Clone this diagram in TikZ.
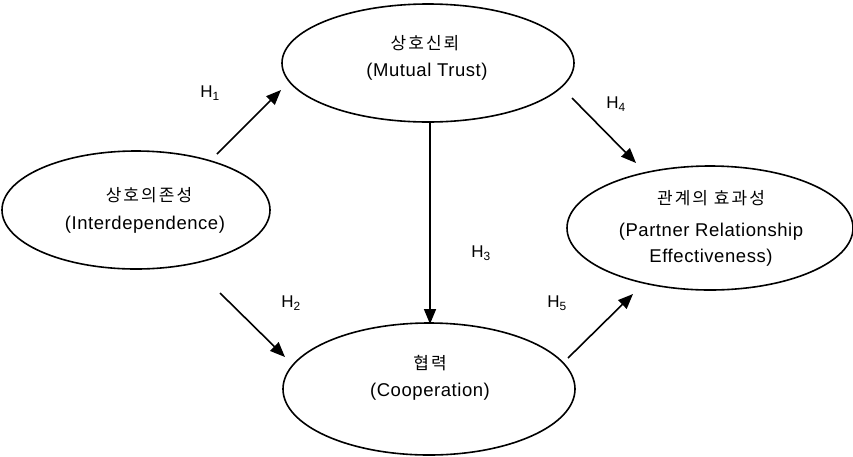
\documentclass[tikz,border=0pt]{standalone}
\usepackage{fontspec}
\setmainfont{Liberation Sans}
\newfontfamily\kor{Noto Sans CJK KR}[LetterSpace=12]
\usetikzlibrary{shapes.geometric,arrows.meta}
\begin{document}
\begin{tikzpicture}[x=1pt,y=-1pt,
  ell/.style={draw,line width=1.6pt,ellipse,inner sep=0pt},
  ktxt/.style={font=\kor\fontsize{17}{20}\selectfont,inner sep=0pt},
  etxt/.style={font=\addfontfeatures{LetterSpace=3}\fontsize{18.5}{22}\selectfont,inner sep=0pt},
  htxt/.style={font=\fontsize{17}{19}\selectfont,inner sep=0pt},
  arr/.style={line width=1.6pt,-{Triangle[length=15pt,width=12pt]}}]
\useasboundingbox (0,0) rectangle (853,456);
% ellipses
\node[ell,minimum width=292pt,minimum height=118pt] (trust) at (428,63) {};
\node[ell,minimum width=268pt,minimum height=118pt] (inter) at (136,210) {};
\node[ell,minimum width=286pt,minimum height=124pt] (eff) at (710,228) {};
\node[ell,minimum width=292pt,minimum height=132pt] (coop) at (429,389) {};
% texts
\node[ktxt] (t1) at (425,43) {상호신뢰};
\node[etxt] (t2) at (427,72) {(Mutual Trust)};
\node[ktxt] (i1) at (149,195) {상호의존성};
\node[etxt] (i2) at (145,225) {(Interdependence)};
\node[ktxt] (e1) at (711,198) {관계의 효과성};
\node[etxt] (e2) at (711,232) {(Partner Relationship};
\node[etxt] (e3) at (711,258) {Effectiveness)};
\node[ktxt] (c1) at (430,363) {협력};
\node[etxt] (c2) at (430,392) {(Cooperation)};
% hypothesis labels
\node[htxt] (h1) at (210,93) {H\textsubscript{1}};
\node[htxt] (h2) at (291,303) {H\textsubscript{2}};
\node[htxt] (h3) at (481,253) {H\textsubscript{3}};
\node[htxt] (h4) at (616,104) {H\textsubscript{4}};
\node[htxt] (h5) at (557,303) {H\textsubscript{5}};
% arrow ends
\coordinate (a1s) at (217,154); \coordinate (a1e) at (281,90);
\coordinate (a2s) at (220,293); \coordinate (a2e) at (285,357);
\coordinate (a3s) at (430,122); \coordinate (a3e) at (430,324);
\coordinate (a4s) at (572,98);  \coordinate (a4e) at (636,163);
\coordinate (a5s) at (568,358); \coordinate (a5e) at (633,294);
\draw[arr] (a1s) -- (a1e);
\draw[arr] (a2s) -- (a2e);
\draw[arr] (a3s) -- (a3e);
\draw[arr] (a4s) -- (a4e);
\draw[arr] (a5s) -- (a5e);
\end{tikzpicture}
\end{document}
